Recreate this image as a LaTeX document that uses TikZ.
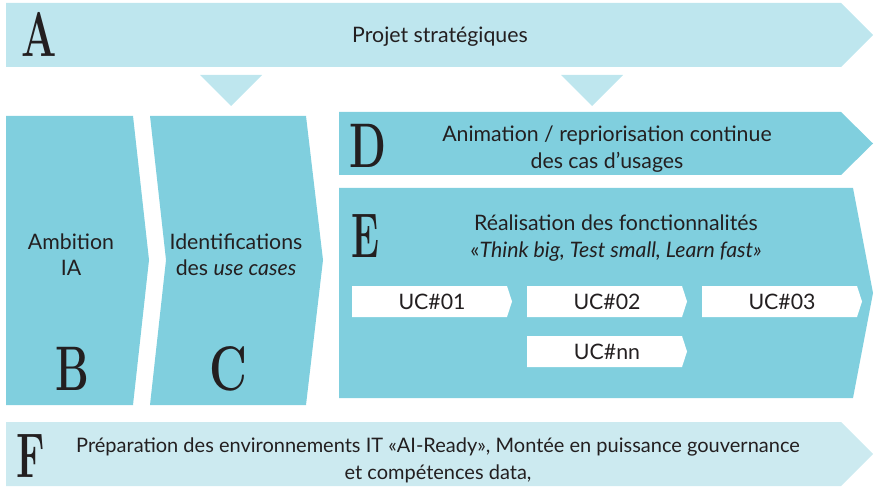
\documentclass[tikz,border=0pt]{standalone}
\usepackage{fontspec}
\setmainfont{Lato}
\newfontfamily\bigletterfont{Latin Modern Roman}
\definecolor{lightband}{RGB}{190,230,238}
\definecolor{lightbandF}{RGB}{204,234,240}
\definecolor{darkband}{RGB}{128,207,222}
\definecolor{textdark}{RGB}{35,31,32}
\newcommand{\bigletter}[2]{\scalebox{#1}[1]{\bigletterfont\bfseries\fontsize{63}{63}\selectfont #2}}
\begin{document}
\begin{tikzpicture}[x=1pt,y=-1pt,
  txt/.style={text=textdark, font=\fontsize{21.3}{27}\selectfont, inner sep=0pt, anchor=base, align=center},
  txtsmall/.style={text=textdark, font=\fontsize{20}{27}\selectfont, inner sep=0pt, anchor=base, align=center},
  uctxt/.style={text=textdark, font=\fontsize{21.3}{24}\selectfont, inner sep=0pt, anchor=base},
  lettre/.style={text=textdark, inner sep=0pt, anchor=base},
  lightfill/.style={fill=lightband, draw=none},
  darkfill/.style={fill=darkband, draw=none},
  ucfill/.style={fill=white, draw=none}]
\useasboundingbox (0,0) rectangle (875,489);
% A banner
\fill[lightfill] (6,3) -- (841,3) -- (873,35) -- (841,67) -- (6,67) -- cycle;
% triangles
\fill[lightfill] (200,75) -- (262,75) -- (231,106) -- cycle;
\fill[lightfill] (561,75) -- (623,75) -- (592,106) -- cycle;
% B
\fill[darkfill] (6,116) -- (133,116) -- (149,260) -- (133,405) -- (6,405) -- cycle;
% C
\fill[darkfill] (150,116) -- (306,116) -- (323,260) -- (306,405) -- (150,405) -- (166,260) -- cycle;
% D
\fill[darkfill] (339,112) -- (841,112) -- (873,143.5) -- (841,175) -- (339,175) -- cycle;
% E
\fill[darkfill] (339,188) -- (853,188) -- (873,293) -- (853,398) -- (339,398) -- cycle;
% UC boxes
\foreach \x/\y in {352/286, 527/286, 702/286, 527/336}{
  \fill[ucfill] (\x,\y) -- (\x+155,\y) -- (\x+160,\y+15.5) -- (\x+155,\y+31) -- (\x,\y+31) -- cycle;
}
% F
\fill[lightbandF] (6,422) -- (841,422) -- (873,454) -- (841,486) -- (6,486) -- cycle;

% texts (base anchor = baseline of last line)
\node[txt] (ta) at (440,43) {Projet stratégiques};
\node[txt,font=\fontsize{21.3}{26}\selectfont] (tb) at (71,275) {Ambition\\IA};
\node[txt,font=\fontsize{21.3}{26}\selectfont] (tc) at (236,275) {Identifications\\des \textit{use cases}};
\node[txt] (td) at (607,169) {Animation / repriorisation continue\\des cas d’usages};
\node[txt] (te) at (616,257) {Réalisation des fonctionnalités\\«\textit{Think big, Test small, Learn fast»}};
\node[txtsmall] (tf) at (438,479) {Préparation des environnements IT «AI-Ready», Montée en puissance gouvernance\\et compétences data,};
\node[uctxt] (uc1) at (432,309) {UC\#01};
\node[uctxt] (uc2) at (607,309) {UC\#02};
\node[uctxt] (uc3) at (782,309) {UC\#03};
\node[uctxt] (ucn) at (607,359) {UC\#nn};

% big letters
\node[lettre] (la) at (39.5,57) {\bigletter{0.66}{A}};
\node[lettre] (lb) at (72,390) {\bigletter{0.67}{B}};
\node[lettre] (lc) at (228,390) {\bigletter{0.74}{C}};
\node[lettre] (ld) at (368,168) {\bigletter{0.68}{D}};
\node[lettre] (le) at (365,257) {\bigletter{0.6}{E}};
\node[lettre] (lf) at (30.5,477) {\bigletter{0.64}{F}};
\end{tikzpicture}
\end{document}
